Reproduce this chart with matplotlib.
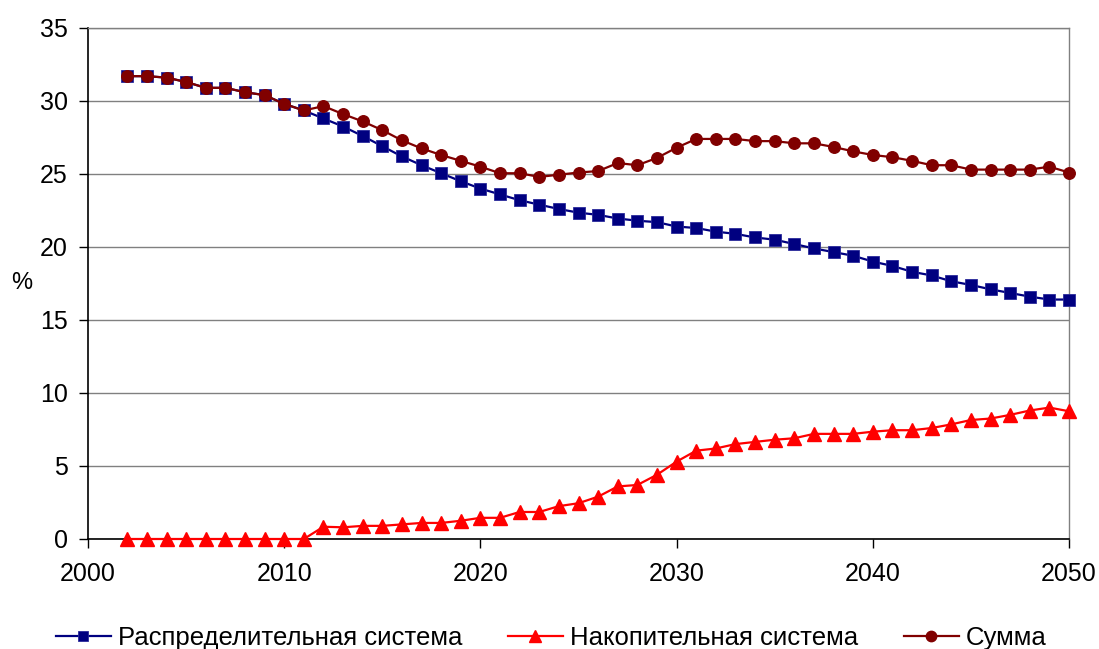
import numpy as np
import matplotlib.pyplot as plt

plt.rcParams['font.family'] = ['Liberation Sans', 'DejaVu Sans']

years = list(range(2002, 2051))

# Распределительная система, %
paygo = [31.7, 31.7, 31.6, 31.3, 30.9, 30.9, 30.6, 30.4, 29.8, 29.35,
         28.8, 28.25, 27.6, 26.9, 26.2, 25.6, 25.05, 24.5, 24.0, 23.6,
         23.2, 22.9, 22.6, 22.35, 22.2, 21.95, 21.8, 21.7, 21.4, 21.3,
         21.05, 20.9, 20.65, 20.5, 20.2, 19.9, 19.65, 19.4, 19.0, 18.7,
         18.3, 18.05, 17.65, 17.4, 17.1, 16.85, 16.6, 16.4, 16.4]

# Накопительная система, %
funded = [0, 0, 0, 0, 0, 0, 0, 0, 0, 0,
          0.84, 0.8, 0.9, 0.9, 1.0, 1.1, 1.1, 1.25, 1.45, 1.45,
          1.85, 1.85, 2.25, 2.45, 2.9, 3.6, 3.7, 4.4, 5.3, 6.05,
          6.2, 6.5, 6.65, 6.8, 6.9, 7.2, 7.2, 7.2, 7.35, 7.45,
          7.45, 7.6, 7.85, 8.15, 8.25, 8.5, 8.8, 9.0, 8.75]

# Сумма, %
total = [31.7, 31.7, 31.6, 31.3, 30.9, 30.9, 30.6, 30.4, 29.8, 29.35,
         29.65, 29.1, 28.6, 28.0, 27.3, 26.75, 26.3, 25.9, 25.5, 25.05,
         25.05, 24.8, 24.95, 25.1, 25.2, 25.75, 25.6, 26.1, 26.8, 27.4,
         27.4, 27.4, 27.25, 27.25, 27.1, 27.1, 26.85, 26.55, 26.3, 26.15,
         25.9, 25.6, 25.6, 25.3, 25.3, 25.3, 25.3, 25.5, 25.1]

labels = ['Распределительная система', 'Накопительная система', 'Сумма']

fig = plt.figure(figsize=(10.99, 6.49), dpi=100)
ax = fig.add_axes([0.0801, 0.1695, 0.8926, 0.7874])

ax.plot(years, paygo, color='#000080', lw=1.6, marker='s', ms=8.3,
        mec='#2a2a9a', mew=0.6, label=labels[0], clip_on=False, zorder=3)
ax.plot(years, funded, color='#ff0000', lw=1.6, marker='^', ms=10,
        mec='#ff0000', label=labels[1], clip_on=False, zorder=4)
ax.plot(years, total, color='#800000', lw=1.6, marker='o', ms=8.3,
        mec='#800000', label=labels[2], clip_on=False, zorder=5)

ax.set_xlim(2000, 2050)
ax.set_ylim(0, 35)
ax.set_xticks(np.arange(2000, 2051, 10))
ax.set_yticks(np.arange(0, 36, 5))
ax.yaxis.grid(True, color='#808080', lw=1)
ax.set_axisbelow(True)

for side in ('top', 'right'):
    ax.spines[side].set_color('#808080')
    ax.spines[side].set_linewidth(1)
for side in ('left', 'bottom'):
    ax.spines[side].set_color('#000000')
    ax.spines[side].set_linewidth(1.2)

ax.tick_params(axis='both', direction='out', length=6.5, width=1,
               labelsize=18, color='#000000')
ax.tick_params(axis='x', pad=10)
ax.tick_params(axis='y', pad=8)

fig.text(0.020, 1 - 283 / 649, '%', fontsize=17, ha='center', va='center')

fig.legend(loc='center', bbox_to_anchor=(0.5014, 1 - 638 / 649), ncol=3,
           frameon=False, fontsize=18.5, handlelength=2.15, handletextpad=0.26,
           columnspacing=1.78, borderaxespad=0, markerscale=0.9)

fig.savefig('out.png', dpi=100)
